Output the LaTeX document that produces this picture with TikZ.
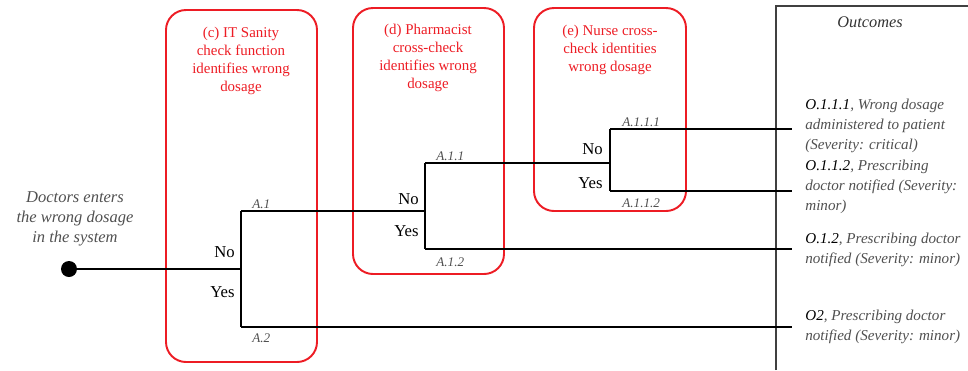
\documentclass[tikz,border=0pt]{standalone}
\usepackage{fontspec}
\setmainfont{Liberation Serif}
\definecolor{stagered}{RGB}{237,28,36}
\definecolor{labelgrey}{RGB}{80,80,80}
\tikzset{
  stagebox/.style={draw=stagered, line width=1.1pt, rounded corners=0.4cm},
  stagetext/.style={text=stagered, align=center, font=\fontsize{8.5}{10.4}\selectfont, inner sep=0pt},
  branch/.style={line width=0.6pt},
  answer/.style={anchor=east, inner sep=0pt, font=\fontsize{9.5}{11}\selectfont},
  pathlabel/.style={anchor=base west, inner sep=0pt, text=labelgrey, font=\fontsize{7.5}{9}\selectfont\itshape},
  outcome/.style={anchor=west, align=left, inner sep=0pt, text=labelgrey, font=\fontsize{8.6}{11.2}\selectfont\itshape},
  dot/.style={circle, fill=black, minimum size=0.32cm, inner sep=0pt}
}
\newcommand{\oid}[1]{\textcolor{black}{#1}}
\begin{document}
\begin{tikzpicture}[x=0.02cm, y=-0.02cm]
  \useasboundingbox (0,0) rectangle (968,370);
  \draw[stagebox] (166,10) rectangle (317,362);
  \draw[stagebox] (353,8) rectangle (504,274);
  \draw[stagebox] (534,8) rectangle (686,211);
  \draw[line width=0.8pt, black!75] (776,370) -- (776,6) -- (968,6);
  \node[stagetext] (stagec) at (241,61) {(c) IT Sanity\\check function\\identifies wrong\\dosage};
  \node[stagetext] (staged) at (428,58) {(d) Pharmacist\\cross-check\\identifies wrong\\dosage};
  \node[stagetext] (stagee) at (610,50) {(e) Nurse cross-\\check identities\\wrong dosage};
  \node[inner sep=0pt, text=black!80, font=\fontsize{9.3}{11}\selectfont\itshape] (outhead) at (870,22) {Outcomes};
  \node[inner sep=0pt, align=center, text=labelgrey, font=\fontsize{9.4}{11.4}\selectfont\itshape] (event) at (75,219) {Doctors enters\\the wrong dosage\\in the system};
  \node[dot] (start) at (69,269) {};
  \coordinate (b1) at (241,269);
  \coordinate (a1) at (241,211);
  \coordinate (a2) at (241,327);
  \coordinate (b2) at (425,211);
  \coordinate (a11) at (425,163);
  \coordinate (a12) at (425,249);
  \coordinate (b3) at (610,163);
  \coordinate (a111) at (610,129);
  \coordinate (a112) at (610,191);
  \coordinate (o111) at (792,129);
  \coordinate (o112) at (792,191);
  \coordinate (o12) at (792,249);
  \coordinate (o2) at (792,327);
  \draw[branch] (start) -- (b1);
  \draw[branch] (a1) -- (a2);
  \draw[branch] (a1) -- (b2);
  \draw[branch] (a2) -- (o2);
  \draw[branch] (a11) -- (a12);
  \draw[branch] (a11) -- (b3);
  \draw[branch] (a12) -- (o12);
  \draw[branch] (a111) -- (a112);
  \draw[branch] (a111) -- (o111);
  \draw[branch] (a112) -- (o112);
  \node[answer] (no1) at (235,252) {No};
  \node[answer] (yes1) at (235,292) {Yes};
  \node[answer] (no2) at (419,199) {No};
  \node[answer] (yes2) at (419,231) {Yes};
  \node[answer] (no3) at (603,149) {No};
  \node[answer] (yes3) at (603,183) {Yes};
  \node[pathlabel] (la1) at (252,208) {A.1};
  \node[pathlabel] (la2) at (252,342) {A.2};
  \node[pathlabel] (la11) at (436,160) {A.1.1};
  \node[pathlabel] (la12) at (436,266) {A.1.2};
  \node[pathlabel] (la111) at (622,126) {A.1.1.1};
  \node[pathlabel] (la112) at (622,207) {A.1.1.2};
  \node[outcome] (t111) at (805,126) {\oid{O.1.1.1}, Wrong dosage\\administered to patient\\(Severity: critical)};
  \node[outcome] (t112) at (805,187) {\oid{O.1.1.2}, Prescribing\\doctor notified (Severity:\\minor)};
  \node[outcome] (t12) at (805,250) {\oid{O.1.2}, Prescribing doctor\\notified (Severity: minor)};
  \node[outcome] (t2) at (805,327) {\oid{O2}, Prescribing doctor\\notified (Severity: minor)};
\end{tikzpicture}
\end{document}
